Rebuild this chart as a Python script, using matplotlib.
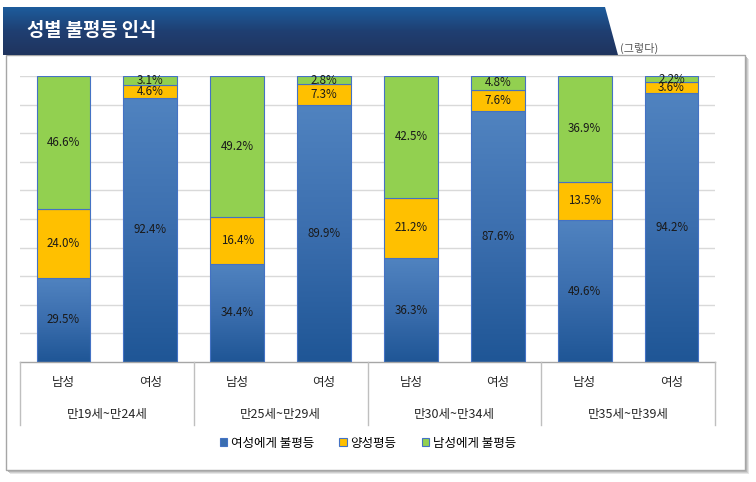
import numpy as np
import matplotlib
matplotlib.use("Agg")
import matplotlib.pyplot as plt
from matplotlib.patches import Polygon, Rectangle
from matplotlib.colors import LinearSegmentedColormap
from matplotlib.transforms import blended_transform_factory

plt.rcParams['font.family'] = ['Noto Sans CJK KR', 'DejaVu Sans']

# data
groups = ['만19세~만24세', '만25세~만29세', '만30세~만34세', '만35세~만39세']
genders = ['남성', '여성']
series = ['여성에게 불평등', '양성평등', '남성에게 불평등']
female_unfair = [29.5, 92.4, 34.4, 89.9, 36.3, 87.6, 49.6, 94.2]
equal = [24.0, 4.6, 16.4, 7.3, 21.2, 7.6, 13.5, 3.6]
male_unfair = [46.6, 3.1, 49.2, 2.8, 42.5, 4.8, 36.9, 2.2]
title = '성별 불평등 인식'
unit = '(그렇다)'

W, H = 756, 482
fig = plt.figure(figsize=(W / 100, H / 100), dpi=100)

# background decorations in pixel coords
bg = fig.add_axes([0, 0, 1, 1], zorder=0)
bg.set_xlim(0, W)
bg.set_ylim(H, 0)
bg.axis('off')

# chart box with soft shadow
for off, c in [(4, '#e6e6e6'), (3, '#cfcfcf'), (2, '#b8b8b8')]:
    bg.add_patch(Rectangle((6 + off, 55 + off), 739, 415, facecolor=c, edgecolor='none'))
bg.add_patch(Rectangle((6, 55), 739, 415, facecolor='white', edgecolor='#a6a6a6', lw=1))

# title banner with gradient
banner_cmap = LinearSegmentedColormap.from_list('banner', ['#1d5c9c', '#1f3f72', '#20345e'])
poly = Polygon([(3, 7), (605, 7), (618, 55), (3, 55)], closed=True,
               facecolor='none', edgecolor='none')
bg.add_patch(poly)
grad = np.linspace(0, 1, 100).reshape(-1, 1)
im = bg.imshow(grad, cmap=banner_cmap, extent=(3, 618, 55, 7), aspect='auto', zorder=1)
im.set_clip_path(poly)
bg.text(27, 31, title, color='white', fontsize=13.5, fontweight='bold', va='center', ha='left', zorder=2)
bg.text(620, 48, unit, color='#595959', fontsize=8, va='center', ha='left', zorder=2)

# main plot
ax = fig.add_axes([20 / W, 1 - 362 / H, 695 / W, 286 / H], zorder=1)
ax.patch.set_alpha(0)
x = np.arange(len(female_unfair))
width = 0.62

for yv in range(10, 101, 10):
    ax.axhline(yv, color='#d9d9d9', lw=1, zorder=0)

blue_cmap = LinearSegmentedColormap.from_list('blue', ['#5083c0', '#3b6eae', '#1f5696'])
edge = '#4472c4'
for i in range(len(x)):
    b = female_unfair[i]
    e = equal[i]
    m = male_unfair[i]
    rect = Rectangle((x[i] - width / 2, 0), width, b, facecolor='none', edgecolor=edge, lw=0.8, zorder=3)
    ax.add_patch(rect)
    gim = ax.imshow(grad, cmap=blue_cmap, extent=(x[i] - width / 2, x[i] + width / 2, 0, b),
                    aspect='auto', zorder=2)
    gim.set_clip_path(rect)
    ax.bar(x[i], e, width, bottom=b, color='#ffc000', edgecolor=edge, lw=0.8, zorder=3)
    ax.bar(x[i], m, width, bottom=b + e, color='#92d050', edgecolor=edge, lw=0.8, zorder=3)
    for val, bot in [(b, 0), (e, b), (m, b + e)]:
        ax.text(x[i], bot + val / 2, f'{val:.1f}%', ha='center', va='center',
                fontsize=8.3, color='#1a1a1a', zorder=4)

ax.set_aspect('auto')
ax.set_xlim(-0.5, len(x) - 0.5)
ax.set_ylim(0, 100)
ax.set_xticks([])
ax.set_yticks([])
for s in ax.spines.values():
    s.set_visible(False)

# category axis
tr = blended_transform_factory(ax.transData, ax.transAxes)
ax.plot([-0.5, len(x) - 0.5], [0, 0], transform=tr, color='#a6a6a6', lw=1, clip_on=False)
for k in range(len(groups) + 1):
    xb = -0.5 + 2 * k
    ax.plot([xb, xb], [0, -0.22], transform=tr, color='#bfbfbf', lw=1, clip_on=False)
for i in range(len(x)):
    ax.text(x[i], -0.07, genders[i % 2], transform=tr, ha='center', va='center',
            fontsize=9, color='#262626')
for k, g in enumerate(groups):
    ax.text(2 * k + 0.5, -0.182, g, transform=tr, ha='center', va='center',
            fontsize=9, color='#262626')

# legend
colors = ['#3a6eb0', '#ffc000', '#92d050']
handles = [Rectangle((0, 0), 1, 1, facecolor=c, edgecolor=edge, lw=0.8) for c in colors]
fig.legend(handles, series, loc='center', bbox_to_anchor=(368 / W, 1 - 443 / H), ncol=3,
           frameon=False, fontsize=9, handlelength=0.6, handleheight=0.6,
           handletextpad=0.3, columnspacing=2.0)

fig.savefig('out.png', dpi=100)
